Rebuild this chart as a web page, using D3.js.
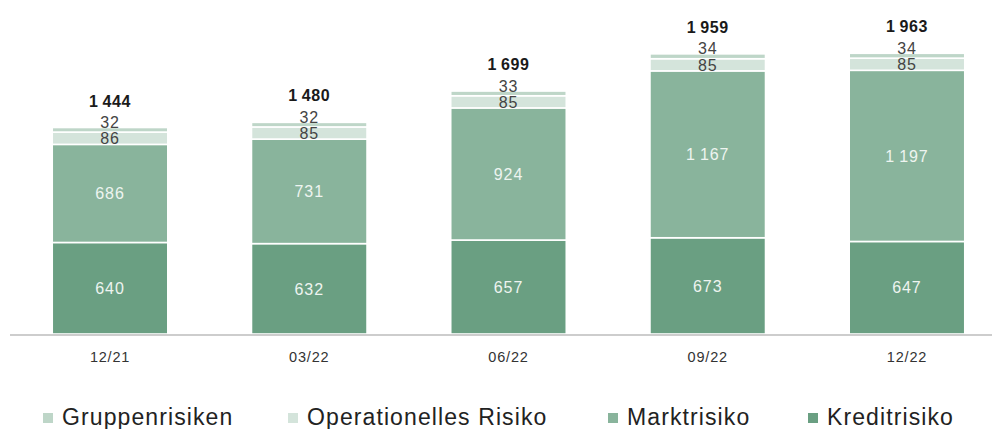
<!DOCTYPE html>
<html>
<head>
<meta charset="utf-8">
<script src="https://cdn.jsdelivr.net/npm/d3@7"></script>
<style>
  html, body { margin: 0; padding: 0; background: #fff; }
  svg { display: block; font-family: "Liberation Sans", Arial, sans-serif; }
</style>
</head>
<body>
<svg id="chart" width="992" height="429"></svg>
<script>
// Quarter-end dates on the x axis
const periods = ["12/21", "03/22", "06/22", "09/22", "12/22"];

// Risk components (stacked bottom to top)
const kreditrisiko = [640, 632, 657, 673, 647];
const marktrisiko = [686, 731, 924, 1167, 1197];
const operationellesRisiko = [86, 85, 85, 85, 85];
const gruppenrisiken = [32, 32, 33, 34, 34];

const seriesNames = ["Kreditrisiko", "Marktrisiko", "Operationelles Risiko", "Gruppenrisiken"];
const seriesValues = [kreditrisiko, marktrisiko, operationellesRisiko, gruppenrisiken];
const colors = {
  "Kreditrisiko": "#6a9f82",
  "Marktrisiko": "#89b49c",
  "Operationelles Risiko": "#d4e4db",
  "Gruppenrisiken": "#bed6c8"
};
const legendOrder = ["Gruppenrisiken", "Operationelles Risiko", "Marktrisiko", "Kreditrisiko"];

const rows = periods.map((p, i) => {
  const r = { period: p };
  seriesNames.forEach((s, j) => { r[s] = seriesValues[j][i]; });
  return r;
});

const fmt = v => d3.format(",")(v).replace(/,/g, "\u2009");

const svg = d3.select("#chart");

const x = d3.scaleBand()
  .domain(periods)
  .range([10, 1007])
  .paddingInner(0.42)
  .paddingOuter(0.212);

const y = d3.scaleLinear().domain([0, 2000]).range([334, 48]);

const stack = d3.stack().keys(seriesNames);
const layers = stack(rows);

// Stacked segments
const g = svg.append("g");
layers.forEach(layer => {
  g.selectAll(null)
    .data(layer)
    .join("rect")
    .attr("x", d => x(d.data.period))
    .attr("width", x.bandwidth())
    .attr("y", d => y(d[1]))
    .attr("height", d => y(d[0]) - y(d[1]))
    .attr("fill", colors[layer.key])
    .attr("stroke", "#fff")
    .attr("stroke-width", 1.6);
});

// Axis line along the base
svg.append("line")
  .attr("x1", 10).attr("x2", 992)
  .attr("y1", 335).attr("y2", 335)
  .attr("stroke", "#bdbdbd")
  .attr("stroke-width", 1.5);

// Category labels
const xAxis = d3.axisBottom(x).tickSize(0).tickPadding(0);
const ax = svg.append("g").attr("transform", "translate(0,352)").call(xAxis);
ax.select(".domain").remove();
ax.selectAll("text")
  .attr("dy", "0.71em")
  .attr("font-size", 14.5)
  .attr("letter-spacing", 0.8)
  .attr("fill", "#333")
  .attr("font-family", "Liberation Sans, Arial, sans-serif");

// Value labels inside and above segments
const cx = d => x(d.data.period) + x.bandwidth() / 2;
layers.forEach(layer => {
  const key = layer.key;
  const lbl = g.selectAll(null)
    .data(layer)
    .join("text")
    .attr("x", cx)
    .attr("text-anchor", "middle")
    .attr("font-size", 16)
    .attr("letter-spacing", 0.9)
    .text(d => fmt(d[1] - d[0]));
  if (key === "Kreditrisiko" || key === "Marktrisiko") {
    lbl.attr("y", d => (y(d[0]) + y(d[1])) / 2)
      .attr("dy", "0.36em")
      .attr("fill", "#eef4f0");
  } else if (key === "Operationelles Risiko") {
    lbl.attr("y", d => (y(d[0]) + y(d[1])) / 2)
      .attr("dy", "0.38em")
      .attr("fill", "#444");
  } else {
    lbl.attr("y", d => y(d[1]) + 0.5)
      .attr("fill", "#444");
  }
});

// Totals above each bar
const totals = layers[layers.length - 1];
g.selectAll(null)
  .data(totals)
  .join("text")
  .attr("x", cx)
  .attr("y", d => y(d[1]) - 21)
  .attr("text-anchor", "middle")
  .attr("font-size", 16)
  .attr("font-weight", "bold")
  .attr("letter-spacing", 0.6)
  .attr("fill", "#1a1a1a")
  .text(d => fmt(d[1]));

// Legend
const legendX = [43, 288, 608, 808];
const leg = svg.append("g");
legendOrder.forEach((name, i) => {
  const item = leg.append("g").attr("transform", `translate(${legendX[i]},0)`);
  item.append("rect")
    .attr("x", 0).attr("y", 413)
    .attr("width", 10).attr("height", 10)
    .attr("fill", colors[name]);
  item.append("text")
    .attr("x", 19).attr("y", 425)
    .attr("font-size", 23)
    .attr("letter-spacing", 1.1)
    .attr("fill", "#222")
    .text(name);
});
</script>
</body>
</html>
